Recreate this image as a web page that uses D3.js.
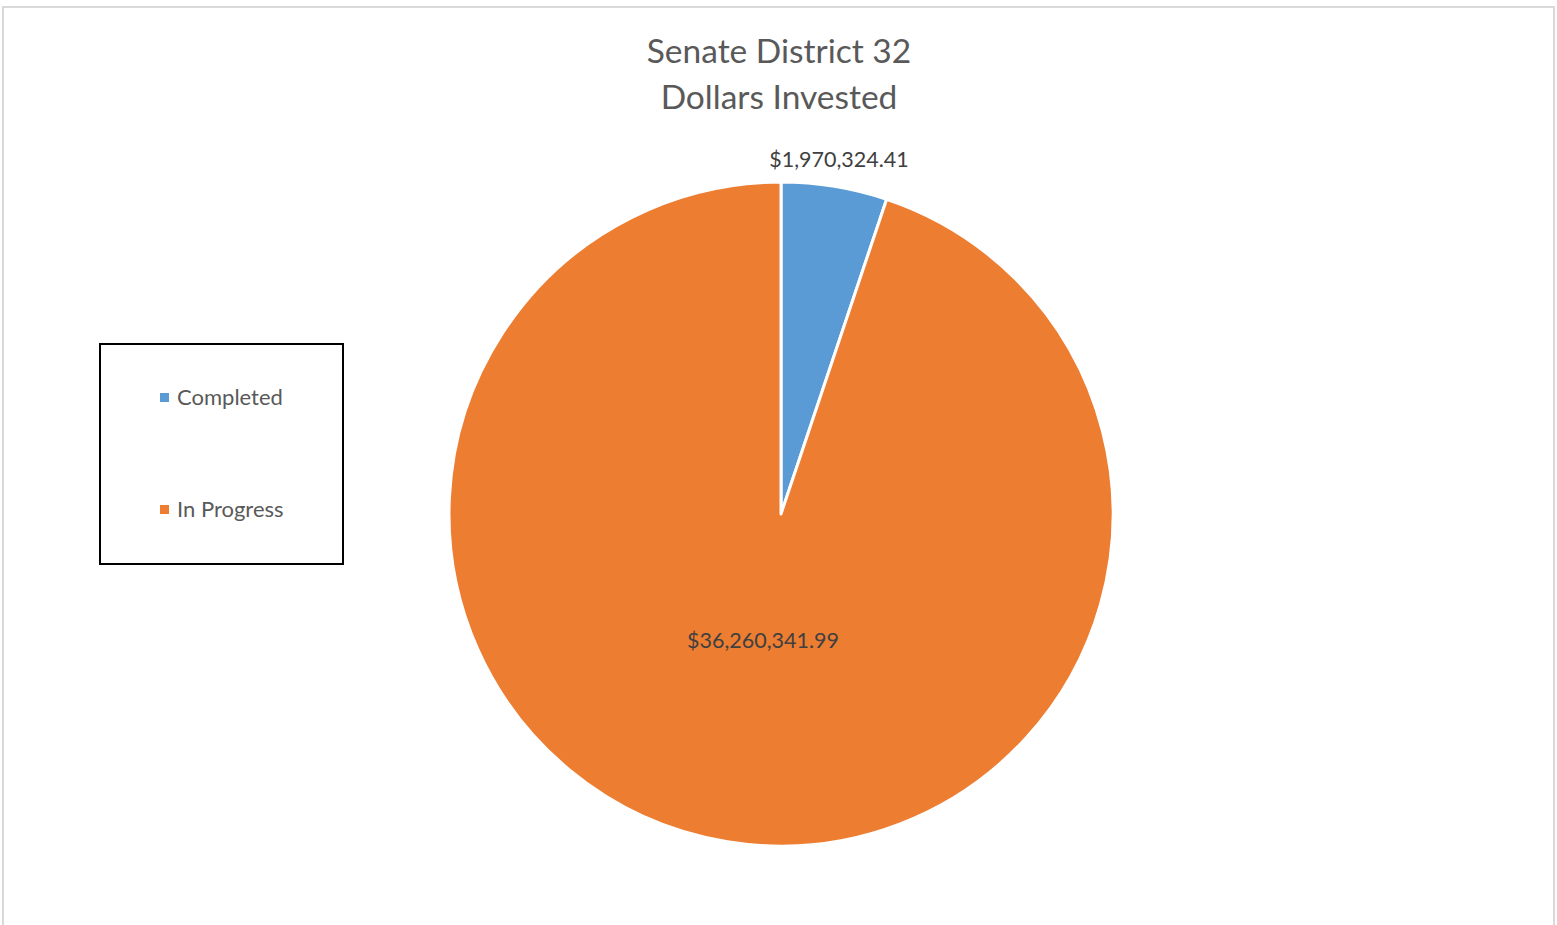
<!DOCTYPE html>
<html><head><meta charset="utf-8">
<script src="https://cdn.jsdelivr.net/npm/d3@7"></script>
<style>html,body{margin:0;padding:0;background:#fff;overflow:hidden}</style>
</head><body>
<svg id="c" width="1557" height="925"></svg>
<script>
const categories = ["Completed", "In Progress"];
const values = [1970324.41, 36260341.99];
const labels = ["$1,970,324.41", "$36,260,341.99"];
const colors = ["#5B9BD5", "#ED7D31"];
const titleLines = ["Senate District 32", "Dollars Invested"];

const svg = d3.select("#c");
const font = "Lato, 'Open Sans', sans-serif";

svg.append("rect").attr("x", 3).attr("y", 7).attr("width", 1551).attr("height", 930)
  .attr("fill", "#fff").attr("stroke", "#d9d9d9").attr("stroke-width", 2);

svg.append("g").selectAll("text").data(titleLines).join("text")
  .attr("x", 779).attr("y", (d, i) => 63 + i * 46)
  .attr("text-anchor", "middle").attr("font-family", font).attr("font-size", 33.5)
  .attr("fill", "#595959").text(d => d);

const cx = 781, cy = 514, r = 332;
const pie = d3.pie().sort(null).value(d => d)(values);
const arc = d3.arc().innerRadius(0).outerRadius(r);
const g = svg.append("g").attr("transform", `translate(${cx},${cy})`);
g.selectAll("path").data(pie).join("path")
  .attr("d", arc).attr("fill", (d, i) => colors[i])
  .attr("stroke", "#fff").attr("stroke-width", 3).attr("stroke-linejoin", "round");

// data labels
const labelPos = [[58, -347], [-18, 134]];
g.selectAll("text.lbl").data(pie).join("text").attr("class", "lbl")
  .attr("x", (d, i) => labelPos[i][0]).attr("y", (d, i) => labelPos[i][1])
  .attr("text-anchor", "middle").attr("font-family", font).attr("font-size", 21.5)
  .attr("fill", "#404040").text((d, i) => labels[i]);

// legend
svg.append("rect").attr("x", 100).attr("y", 344).attr("width", 243).attr("height", 220)
  .attr("fill", "#fff").attr("stroke", "#000").attr("stroke-width", 2);
const lg = svg.append("g").selectAll("g").data(categories).join("g")
  .attr("transform", (d, i) => `translate(160,${393 + i * 112})`);
lg.append("rect").attr("width", 9).attr("height", 9).attr("fill", (d, i) => colors[i]);
lg.append("text").attr("x", 17).attr("y", 12).attr("font-family", font).attr("font-size", 22)
  .attr("fill", "#595959").text(d => d);
</script>
</body></html>
